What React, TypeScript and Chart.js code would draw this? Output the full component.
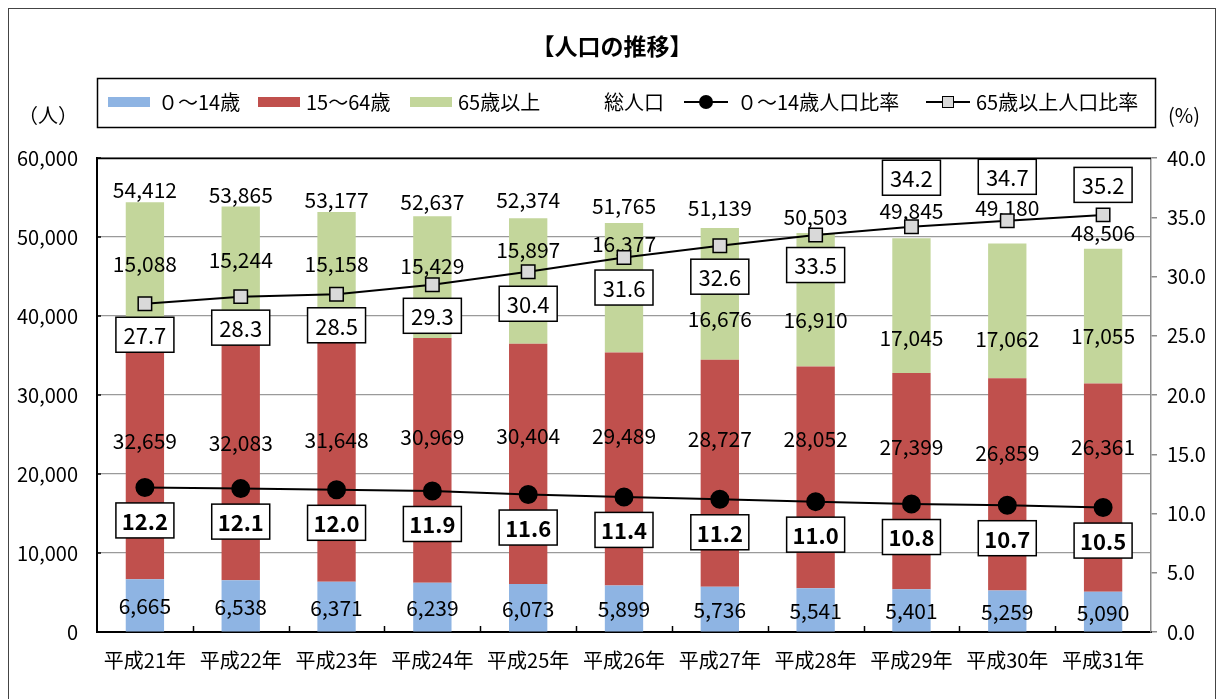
import React, { useEffect, useRef } from 'react';
import { Chart, registerables } from 'chart.js';

Chart.register(...registerables);

// ---- data ----
const years = ['平成21年', '平成22年', '平成23年', '平成24年', '平成25年', '平成26年', '平成27年', '平成28年', '平成29年', '平成30年', '平成31年'];
const pop0to14 = [6665, 6538, 6371, 6239, 6073, 5899, 5736, 5541, 5401, 5259, 5090];
const pop15to64 = [32659, 32083, 31648, 30969, 30404, 29489, 28727, 28052, 27399, 26859, 26361];
const pop65plus = [15088, 15244, 15158, 15429, 15897, 16377, 16676, 16910, 17045, 17062, 17055];
const popTotal = [54412, 53865, 53177, 52637, 52374, 51765, 51139, 50503, 49845, 49180, 48506];
const ratio0to14 = [12.2, 12.1, 12.0, 11.9, 11.6, 11.4, 11.2, 11.0, 10.8, 10.7, 10.5];
const ratio65plus = [27.7, 28.3, 28.5, 29.3, 30.4, 31.6, 32.6, 33.5, 34.2, 34.7, 35.2];

// ---- label placement (pixel nudges, as in the reference) ----
const LAYOUT = {
  seg15Shift: [-9, -11, -17, -23, -28, -33, -34, -38, -34, -31, -41],
  seg65Shift: [2, -7, -8, -11, -31, -44, 25, 20, 32, 28, 20],
  totalGap: [3, 2, 3, 5, 9, 8, 11, 7, 18, 26, 7],
  box65Shift: [31, 31, 31, 31, 32, 30, 31, 30, -49, -44, -30],
  box014Shift: 33,
};

const FONT = '"Noto Sans CJK JP", "Noto Sans", sans-serif';
const C_BLUE = '#8EB4E3';
const C_RED = '#C0504D';
const C_GREEN = '#C3D69B';
const C_SQ = '#D9D9D9';
const fmt = (v: number) => v.toLocaleString('en-US');

const labelPlugin = {
  id: 'customLabels',
  afterDatasetDraw(chart: any, args: any) {
    if (args.index !== 3) return;
    const ctx = chart.ctx;
    const m0 = chart.getDatasetMeta(0);
    const m1 = chart.getDatasetMeta(1);
    const m2 = chart.getDatasetMeta(2);
    const mt = chart.getDatasetMeta(3);
    ctx.save();
    ctx.font = `21px ${FONT}`;
    ctx.fillStyle = '#000';
    ctx.textAlign = 'center';
    ctx.textBaseline = 'middle';
    years.forEach((_, i) => {
      const b0 = m0.data[i];
      const b1 = m1.data[i];
      const b2 = m2.data[i];
      const pt = mt.data[i];
      ctx.fillText(fmt(pop0to14[i]), b0.x, (b0.y + b0.base) / 2 + 1);
      ctx.fillText(fmt(pop15to64[i]), b1.x, (b1.y + b1.base) / 2 + LAYOUT.seg15Shift[i]);
      ctx.fillText(fmt(pop65plus[i]), b2.x, (b2.y + b2.base) / 2 + LAYOUT.seg65Shift[i]);
      ctx.fillText(fmt(popTotal[i]), pt.x, pt.y - LAYOUT.totalGap[i] - 9);
    });
    ctx.restore();
  },
  afterDatasetsDraw(chart: any) {
    const ctx = chart.ctx;
    const drawBox = (x: number, y: number, text: string, bold: boolean) => {
      const w = 58, h = 35;
      ctx.fillStyle = '#fff';
      ctx.fillRect(x - w / 2, y - h / 2, w, h);
      ctx.strokeStyle = '#000';
      ctx.lineWidth = 1.5;
      ctx.strokeRect(x - w / 2, y - h / 2, w, h);
      ctx.fillStyle = '#000';
      ctx.font = `${bold ? 'bold ' : ''}22px ${FONT}`;
      ctx.textAlign = 'center';
      ctx.textBaseline = 'middle';
      ctx.fillText(text, x, y + 1);
    };
    ctx.save();
    const ma = chart.getDatasetMeta(4);
    const mb = chart.getDatasetMeta(5);
    years.forEach((_, i) => {
      const pa = ma.data[i];
      drawBox(pa.x, pa.y + LAYOUT.box014Shift, ratio0to14[i].toFixed(1), true);
      const pb = mb.data[i];
      drawBox(pb.x, pb.y + LAYOUT.box65Shift[i], ratio65plus[i].toFixed(1), false);
    });
    ctx.restore();
  },
  afterDraw(chart: any) {
    const ctx = chart.ctx;
    const ca = chart.chartArea;
    const xs = chart.scales.x;
    const ys = chart.scales.y;
    ctx.save();
    // top border of plot
    ctx.strokeStyle = '#000';
    ctx.lineWidth = 1.5;
    ctx.beginPath();
    ctx.moveTo(ca.left, ca.top + 0.5);
    ctx.lineTo(ca.right, ca.top + 0.5);
    ctx.stroke();
    // inward ticks on left axis
    ctx.lineWidth = 1.5;
    ys.ticks.forEach((t: any) => {
      const y = ys.getPixelForValue(t.value);
      ctx.beginPath();
      ctx.moveTo(ca.left, y);
      ctx.lineTo(ca.left + 4, y);
      ctx.stroke();
    });
    // inward ticks on category axis at boundaries
    const n = years.length;
    const cw = (ca.right - ca.left) / n;
    for (let k = 1; k < n; k++) {
      const x = Math.round(ca.left + cw * k) + 0.5;
      ctx.beginPath();
      ctx.moveTo(x, ca.bottom);
      ctx.lineTo(x, ca.bottom - 6);
      ctx.stroke();
    }
    // outer frame
    ctx.strokeStyle = '#444';
    ctx.lineWidth = 1;
    ctx.strokeRect(8.5, 8.5, 1207, 720);
    // title
    ctx.fillStyle = '#000';
    ctx.font = `bold 23px ${FONT}`;
    ctx.textAlign = 'center';
    ctx.textBaseline = 'middle';
    ctx.fillText('【人口の推移】', 612, 46);
    // unit labels
    ctx.font = `20px ${FONT}`;
    ctx.textAlign = 'left';
    ctx.fillText('（人）', 18, 115);
    ctx.fillText('(%)', 1168, 115);
    // legend box
    ctx.strokeStyle = '#000';
    ctx.lineWidth = 1.5;
    ctx.strokeRect(97.5, 78.5, 1058, 49);
    const ly = 102;
    const swatch = (x: number, color: string) => {
      ctx.fillStyle = color;
      ctx.fillRect(x, ly - 5, 42, 10);
    };
    ctx.font = `20px ${FONT}`;
    ctx.textBaseline = 'middle';
    swatch(108, C_BLUE);
    ctx.fillStyle = '#000';
    ctx.fillText('０～14歳', 158, ly);
    swatch(258, C_RED);
    ctx.fillStyle = '#000';
    ctx.fillText('15～64歳', 306, ly);
    swatch(410, C_GREEN);
    ctx.fillStyle = '#000';
    ctx.fillText('65歳以上', 458, ly);
    ctx.fillText('総人口', 604, ly);
    // circle line marker
    ctx.strokeStyle = '#000';
    ctx.lineWidth = 2;
    ctx.beginPath();
    ctx.moveTo(684, ly);
    ctx.lineTo(728, ly);
    ctx.stroke();
    ctx.beginPath();
    ctx.arc(706, ly, 7, 0, Math.PI * 2);
    ctx.fillStyle = '#000';
    ctx.fill();
    ctx.fillText('０～14歳人口比率', 737, ly);
    // square line marker
    ctx.beginPath();
    ctx.moveTo(926, ly);
    ctx.lineTo(970, ly);
    ctx.stroke();
    ctx.fillStyle = C_SQ;
    ctx.fillRect(942, ly - 6, 12, 12);
    ctx.lineWidth = 1;
    ctx.strokeRect(942.5, ly - 5.5, 11, 11);
    ctx.fillStyle = '#000';
    ctx.fillText('65歳以上人口比率', 976, ly);
    ctx.restore();
  },
};

export default function App() {
  const ref = useRef<HTMLCanvasElement | null>(null);
  useEffect(() => {
    document.body.style.overflow = 'hidden';
    const canvas = ref.current!;
    const chart = new Chart(canvas, {
      type: 'bar',
      data: {
        labels: years,
        datasets: [
          { type: 'bar', label: '０～14歳', data: pop0to14, backgroundColor: C_BLUE, stack: 'pop', yAxisID: 'y', order: 3, barPercentage: 0.4, categoryPercentage: 1 },
          { type: 'bar', label: '15～64歳', data: pop15to64, backgroundColor: C_RED, stack: 'pop', yAxisID: 'y', order: 3, barPercentage: 0.4, categoryPercentage: 1 },
          { type: 'bar', label: '65歳以上', data: pop65plus, backgroundColor: C_GREEN, stack: 'pop', yAxisID: 'y', order: 3, barPercentage: 0.4, categoryPercentage: 1 },
          { type: 'line', label: '総人口', data: popTotal, yAxisID: 'y', stack: 'total', showLine: false, pointRadius: 0, order: 2 },
          { type: 'line', label: '０～14歳人口比率', data: ratio0to14, yAxisID: 'y1', borderColor: '#000', borderWidth: 2, pointStyle: 'circle', pointRadius: 8.5, pointBackgroundColor: '#000', pointBorderColor: '#000', order: 1 },
          { type: 'line', label: '65歳以上人口比率', data: ratio65plus, yAxisID: 'y1', borderColor: '#000', borderWidth: 2, pointStyle: 'rect', pointRadius: 9.5, pointBackgroundColor: C_SQ, pointBorderColor: '#000', pointBorderWidth: 1.5, order: 0 },
        ] as any,
      },
      options: {
        responsive: false,
        animation: false,
        devicePixelRatio: 1,
        layout: { padding: { left: 8, right: 8, top: 158, bottom: 0 } },
        plugins: { legend: { display: false }, tooltip: { enabled: false }, title: { display: false } },
        scales: {
          x: {
            stacked: true,
            offset: true,
            grid: { display: true, drawOnChartArea: false, drawTicks: false, color: 'rgba(0,0,0,0)' },
            border: { display: true, color: '#000', width: 2 },
            ticks: { color: '#000', font: { family: FONT, size: 20 }, padding: 16, autoSkip: false, maxRotation: 0 },
            afterFit: (s: any) => { s.height = 67; },
          },
          y: {
            stacked: true,
            position: 'left',
            min: 0,
            max: 60000,
            ticks: { stepSize: 10000, color: '#000', font: { family: FONT, size: 20 }, padding: 19, callback: (v: any) => fmt(Number(v)) },
            grid: { color: '#9a9a9a', lineWidth: 1.2, drawTicks: false },
            border: { display: true, color: '#000', width: 2 },
            afterFit: (s: any) => { s.width = 89; },
          },
          y1: {
            position: 'right',
            min: 0,
            max: 40,
            ticks: { stepSize: 5, color: '#000', font: { family: FONT, size: 20 }, padding: 10, callback: (v: any) => Number(v).toFixed(1) },
            grid: { drawOnChartArea: false, drawTicks: true, tickLength: 6, color: '#8a8a8a', lineWidth: 1.5 },
            border: { display: true, color: '#8a8a8a', width: 1.5 },
            afterFit: (s: any) => { s.width = 61; },
          },
        },
      },
      plugins: [labelPlugin],
    } as any);
    return () => chart.destroy();
  }, []);
  return (
    <div style={{ position: 'absolute', left: 0, top: 0, width: 1220, height: 699, background: '#fff' }}>
      <canvas ref={ref} width={1220} height={699} style={{ width: 1220, height: 699, display: 'block' }} />
    </div>
  );
}
